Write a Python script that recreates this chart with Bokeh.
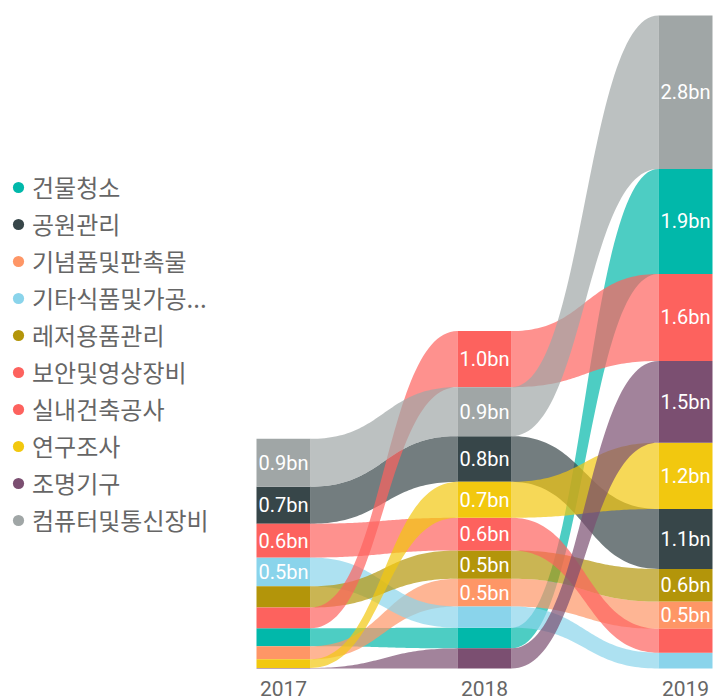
import numpy as np
from bokeh.plotting import figure
from bokeh.models import Range1d, LinearAxis, FixedTicker, Legend, LegendItem
from bokeh.core.properties import value
from bokeh.embed import file_html
from bokeh.resources import INLINE

# ---------------- data ----------------
years = ["2017", "2018", "2019"]
categories = ["건물청소", "공원관리", "기념품및판촉물", "기타식품및가공...", "레저용품관리",
              "보안및영상장비", "실내건축공사", "연구조사", "조명기구", "컴퓨터및통신장비"]
colors = ["#01B8AA", "#374649", "#FE9666", "#8AD4EB", "#B3950A",
          "#FD625E", "#FD625E", "#F2C80F", "#7B4F71", "#A0A6A6"]
# values in billions
v2017 = [0.33, 0.68, 0.24, 0.53, 0.39, 0.38, 0.62, 0.16, 0.01, 0.88]
v2018 = [0.38, 0.84, 0.51, 0.39, 0.52, 1.03, 0.60, 0.66, 0.37, 0.90]
v2019 = [1.93, 1.10, 0.50, 0.29, 0.60, 1.60, 0.44, 1.22, 1.50, 2.82]
values = [v2017, v2018, v2019]
label_min = 0.47  # smaller segments carry no data label

# ---------------- layout constants ----------------
W, H = 728, 699
PX_PER_BN = 54.42
BASE_PX = 668          # baseline position from figure top
COL_SPACING = 201
COL0 = 283             # first column centre from figure left
HALF_W = 27 / COL_SPACING
ALPHA = 0.7

p = figure(width=W, height=H, output_backend="svg", toolbar_location=None,
           x_axis_location=None, y_axis_location=None,
           x_range=Range1d(-COL0 / COL_SPACING, (W - COL0) / COL_SPACING),
           y_range=Range1d(-(H - BASE_PX) / PX_PER_BN, BASE_PX / PX_PER_BN),
           min_border=0, outline_line_color=None, background_fill_color="white",
           border_fill_color="white")
p.grid.visible = False

n = len(categories)
# stack: largest on top
bottoms, tops = [], []
for vals in values:
    order = sorted(range(n), key=lambda c: vals[c])
    b = [0.0] * n
    t = [0.0] * n
    acc = 0.0
    for c in order:
        b[c] = acc
        acc += vals[c]
        t[c] = acc
    bottoms.append(b)
    tops.append(t)

# ribbons
tt = np.linspace(0, 1, 60)
ease = 3 * tt ** 2 - 2 * tt ** 3
rxs, rys, rcs = [], [], []
for c in range(n):
    for i in range(len(years) - 1):
        x0 = i + HALF_W
        x1 = i + 1 - HALF_W
        xm = (x0 + x1) / 2
        bx = (1 - tt) ** 3 * x0 + 3 * (1 - tt) ** 2 * tt * xm + 3 * (1 - tt) * tt ** 2 * xm + tt ** 3 * x1
        top = tops[i][c] + (tops[i + 1][c] - tops[i][c]) * ease
        bot = bottoms[i][c] + (bottoms[i + 1][c] - bottoms[i][c]) * ease
        rxs.append(list(bx) + list(bx[::-1]))
        rys.append(list(top) + list(bot[::-1]))
        rcs.append(colors[c])
p.patches(xs=rxs, ys=rys, fill_color=rcs, fill_alpha=ALPHA, line_color=None)

# columns
bx_, bb_, bt_, bc_ = [], [], [], []
lx, ly, lt = [], [], []
for i in range(len(years)):
    for c in range(n):
        bx_.append(i)
        bb_.append(bottoms[i][c])
        bt_.append(tops[i][c])
        bc_.append(colors[c])
        v = values[i][c]
        if v >= label_min:
            lx.append(i)
            ly.append((bottoms[i][c] + tops[i][c]) / 2)
            lt.append(f"{v:.1f}bn")
p.vbar(x=bx_, bottom=bb_, top=bt_, width=2 * HALF_W, fill_color=bc_, line_color=None)
p.text(x=lx, y=ly, text=lt, text_color="white", text_font=value("Roboto"),
       text_font_size="20px", text_align="center", text_baseline="middle")

# year axis
ax = LinearAxis(ticker=FixedTicker(ticks=[0, 1, 2]),
                major_label_overrides={i: y for i, y in enumerate(years)},
                fixed_location=0)
ax.axis_line_color = None
ax.major_tick_line_color = None
ax.minor_tick_line_color = None
ax.major_label_text_font = "Roboto"
ax.major_label_text_font_size = "21px"
ax.major_label_text_color = "#666666"
ax.major_label_standoff = 6
p.add_layout(ax, "below")

# legend (proxy renderers of zero size, one per category)
items = []
for c in range(n):
    r = p.scatter(x=[0], y=[bottoms[0][c]], size=0, marker="circle",
                  fill_color=colors[c], line_color=None)
    items.append(LegendItem(label=categories[c], renderers=[r]))
legend = Legend(items=items, location=(4, 162), orientation="vertical",
                border_line_color=None, background_fill_alpha=0,
                label_text_font="Noto Sans CJK KR", label_text_font_size="24px",
                label_text_color="#666666", glyph_width=28, glyph_height=28,
                label_height=35, spacing=2, padding=0, margin=0, label_standoff=-12)
p.add_layout(legend, "center")

open("out.html", "w").write(file_html(p, INLINE))
